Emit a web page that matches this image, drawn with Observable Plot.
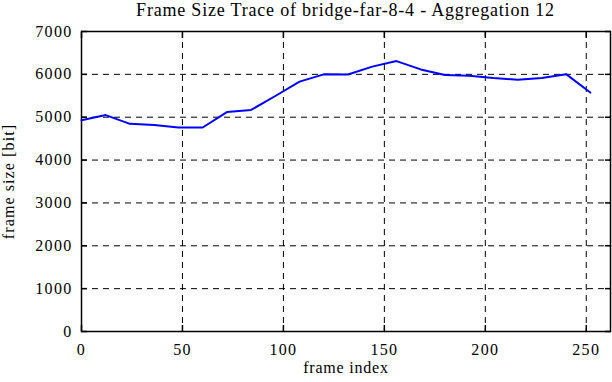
<!DOCTYPE html>
<html>
<head>
<meta charset="utf-8">
<script src="https://cdn.jsdelivr.net/npm/d3@7"></script>
<script src="https://cdn.jsdelivr.net/npm/@observablehq/plot@0.6"></script>
<style>
  body { margin: 0; background: #fff; }
  #title { font-family: "Liberation Serif", serif; font-size: 18px; height: 20px; line-height: 20px; letter-spacing: 0.8px;
           box-sizing: border-box; padding-left: 81px; padding-right: 2px; text-align: center; width: 612px; color: #000; white-space: nowrap; }
  #chart svg text { font-family: "Liberation Serif", serif; font-variant-numeric: normal; }
  #chart g[aria-label="x-axis tick label"] text, #chart g[aria-label="y-axis tick label"] text { letter-spacing: 1.3px; }
  #chart g[aria-label="x-axis label"] text { letter-spacing: 0.8px; }
  #chart g[aria-label="y-axis label"] text { letter-spacing: 1.1px; }
</style>
</head>
<body>
<div id="title">Frame Size Trace of bridge-far-8-4 - Aggregation 12</div>
<div id="chart"></div>
<script>
const titleText = "Frame Size Trace of bridge-far-8-4 - Aggregation 12";
const frameIndex = [0, 12, 24, 36, 48, 60, 72, 84, 96, 108, 120, 132, 144, 156, 168, 180, 192, 204, 216, 228, 240, 252];
const frameSize = [4930, 5050, 4845, 4820, 4760, 4760, 5120, 5170, 5495, 5830, 6000, 5995, 6180, 6310, 6115, 5985, 5970, 5915, 5875, 5915, 6005, 5575];
const xTicks = [0, 50, 100, 150, 200, 250];
const yTicks = [0, 1000, 2000, 3000, 4000, 5000, 6000, 7000];
const xGrid = [50, 100, 150, 200, 250];
const yGrid = [1000, 2000, 3000, 4000, 5000, 6000];

document.getElementById("title").textContent = titleText;
const data = frameIndex.map((x, i) => ({x, y: frameSize[i]}));
const fmt = d => String(d);
const font = {fontFamily: "Liberation Serif, serif", fontSize: 16};

const chart = Plot.plot({
  width: 612,
  height: 362,
  marginLeft: 81,
  marginRight: 2,
  marginTop: 11,
  marginBottom: 51,
  style: {fontFamily: "Liberation Serif, serif", fontSize: "18px", color: "#000", background: "#fff"},
  x: {domain: [0, 262]},
  y: {domain: [0, 7000]},
  marks: [
    Plot.gridX(xGrid, {stroke: "black", strokeOpacity: 1, strokeDasharray: "6,5"}),
    Plot.gridY(yGrid, {stroke: "black", strokeOpacity: 1, strokeDasharray: "6,5"}),
    Plot.axisX(xTicks, {anchor: "bottom", tickSize: -6, tickPadding: 18, strokeWidth: 1.5, tickFormat: fmt, ...font, label: "frame index", labelAnchor: "center", labelArrow: "none", labelOffset: 41}),
    Plot.axisX(xTicks, {anchor: "top", tickSize: -6, tickFormat: () => "", strokeWidth: 1.5, label: null}),
    Plot.axisY(yTicks, {anchor: "left", tickSize: -6, tickPadding: 15, strokeWidth: 1.5, tickFormat: fmt, ...font, label: "frame size [bit]", labelAnchor: "center", labelArrow: "none", labelOffset: 79}),
    Plot.axisY(yTicks, {anchor: "right", tickSize: -6, tickFormat: () => "", strokeWidth: 1.5, label: null}),
    Plot.frame({stroke: "black", strokeWidth: 1.5}),
    Plot.line(data, {x: "x", y: "y", stroke: "#0000ff", strokeWidth: 2})
  ]
});
document.getElementById("chart").appendChild(chart);
</script>
</body>
</html>
